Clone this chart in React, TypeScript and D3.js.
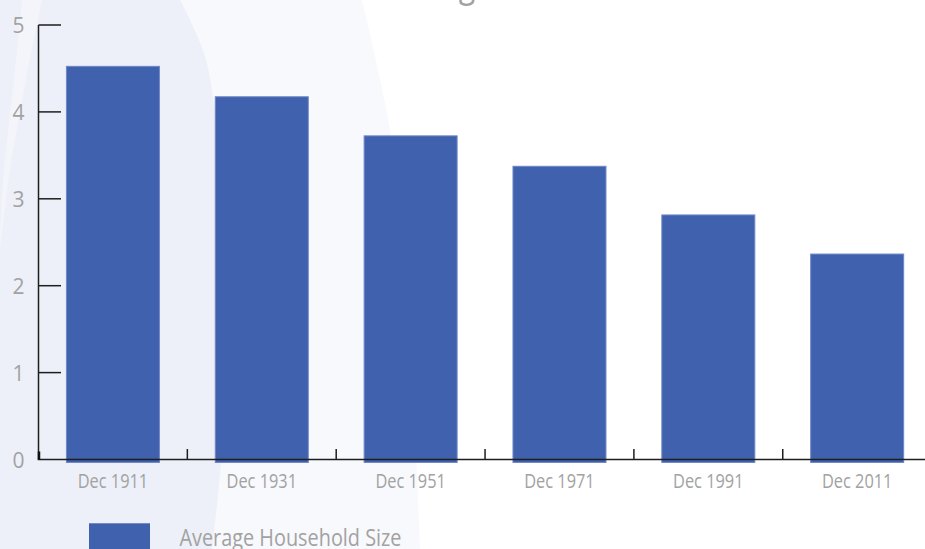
import React from "react";
import * as d3 from "d3";

const categories = ["Dec 1911", "Dec 1931", "Dec 1951", "Dec 1971", "Dec 1991", "Dec 2011"];
const householdSize = [4.53, 4.18, 3.73, 3.38, 2.82, 2.37];
const yTicks = [0, 1, 2, 3, 4, 5];
const seriesName = "Average Household Size";
const titleText = "Average Household Size";

const W = 925;
const H = 549;
const BLUE = "#4061ae";
const LABEL = "#a2a2a2";

export default function App() {
  const x = d3
    .scaleBand<string>()
    .domain(categories)
    .range([38.5, 38.5 + 6 * 148.85])
    .paddingInner(0.3685)
    .paddingOuter(0.18425);
  const y = d3.scaleLinear().domain([0, 5]).range([459.5, 25]);
  const step = x.step();
  const x0 = 38.5;
  const boundaries = d3.range(1, categories.length).map((i) => x0 + i * step);

  const curve = d3.line<[number, number]>().curve(d3.curveCatmullRom);
  const zoneA: [number, number][] = [[180, 0], [206, 60], [220, 180], [226, 330], [222, 450], [212, 549]];
  const zoneB: [number, number][] = [[362, 0], [392, 140], [408, 300], [416, 450], [420, 549]];
  const pathA = "M0,0L" + (curve(zoneA) || "").slice(1) + "L0,549Z";
  const pathB = "M0,0L" + (curve(zoneB) || "").slice(1) + "L0,549Z";
  const streakL: [number, number][] = [[22, 0], [14, 80], [4, 170], [0, 240]];
  const streakR: [number, number][] = [[0, 250], [10, 170], [26, 80], [42, 0]];
  const pathS = (curve(streakL) || "") + "L" + (curve(streakR) || "").slice(1) + "Z";

  const font = "'Open Sans', 'Noto Sans', sans-serif";

  return (
    <svg
      width={W}
      height={H}
      style={{ position: "fixed", left: 0, top: 0, background: "#ffffff" }}
      fontFamily={font}
    >
      <rect x={0} y={0} width={W} height={H} fill="#ffffff" />
      <path d={pathB} fill="#f8f9fc" />
      <path d={pathA} fill="#edf0f8" />
      <path d={pathS} fill="#f4f5fa" />

      <text
        x={378}
        y={-3.5}
        fontSize={36}
        fill={LABEL}
        textLength={340}
        lengthAdjust="spacingAndGlyphs"
      >
        {titleText}
      </text>

      {categories.map((c, i) => (
        <rect
          key={c}
          x={(x(c) as number) + 0.5}
          y={y(householdSize[i]) + 0.5}
          width={x.bandwidth() - 1}
          height={y(0) + 3 - y(householdSize[i]) - 0.5}
          fill={BLUE}
          stroke="#6f88c6"
          strokeWidth={1}
        />
      ))}

      {/* y axis */}
      <line x1={x0} x2={x0} y1={y(5)} y2={y(0)} stroke="#1e1e1e" strokeWidth={1.5} />
      {yTicks.map((t) => (
        <g key={t}>
          {t > 0 && <line x1={x0} x2={61} y1={y(t)} y2={y(t)} stroke="#1e1e1e" strokeWidth={1.5} />}
          <text x={24.5} y={y(t) + 8} textAnchor="end" fontSize={21} fill={LABEL}>
            {t}
          </text>
        </g>
      ))}

      {/* x axis */}
      <line x1={x0 - 0.75} x2={W} y1={y(0)} y2={y(0)} stroke="#1e1e1e" strokeWidth={1.5} />
      <line x1={x0 + 0.5} x2={x0 + 0.5} y1={y(0) - 8} y2={y(0)} stroke="#111" strokeWidth={2.5} />
      {boundaries.map((b, i) => (
        <line key={i} x1={b} x2={b} y1={y(0) - 10.5} y2={y(0)} stroke="#1e1e1e" strokeWidth={1.5} />
      ))}
      {categories.map((c) => (
        <text
          key={c}
          x={(x(c) as number) + x.bandwidth() / 2}
          y={487.7}
          textAnchor="middle"
          fontSize={20}
          fill={LABEL}
          textLength={70.5}
          lengthAdjust="spacingAndGlyphs"
        >
          {c}
        </text>
      ))}

      {/* legend */}
      <rect x={89} y={523.3} width={61} height={30} fill={BLUE} />
      <text
        x={179.5}
        y={546}
        fontSize={24}
        fill={LABEL}
        textLength={222}
        lengthAdjust="spacingAndGlyphs"
      >
        {seriesName}
      </text>
    </svg>
  );
}
